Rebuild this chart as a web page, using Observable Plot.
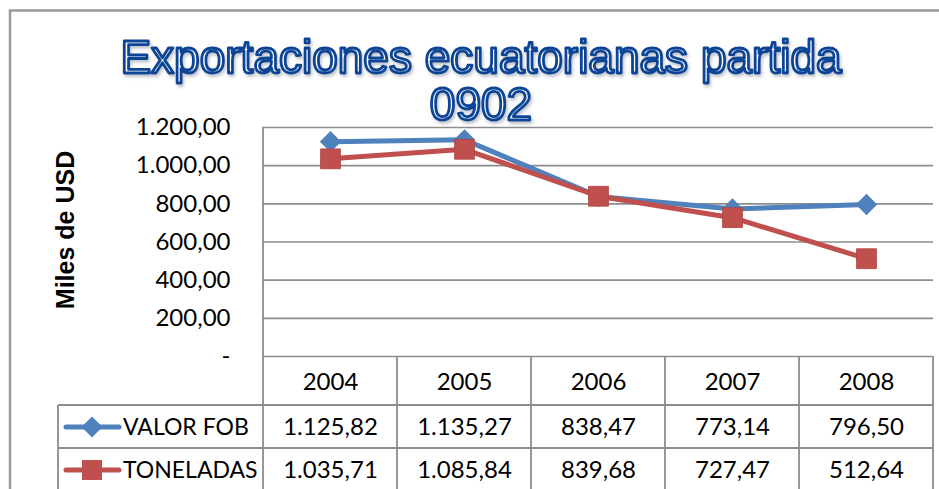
<!DOCTYPE html>
<html>
<head>
<meta charset="utf-8">
<script src="https://cdn.jsdelivr.net/npm/d3@7"></script>
<script src="https://cdn.jsdelivr.net/npm/@observablehq/plot@0.6"></script>
<style>
  html, body { margin: 0; padding: 0; background: #fff; }
  #chart { width: 939px; height: 489px; overflow: hidden; }
</style>
</head>
<body>
<div id="chart"></div>
<script>
const years = ["2004", "2005", "2006", "2007", "2008"];
const valorFob = [1125.82, 1135.27, 838.47, 773.14, 796.50];
const toneladas = [1035.71, 1085.84, 839.68, 727.47, 512.64];
const seriesNames = ["VALOR FOB", "TONELADAS"];
const seriesColors = ["#4F81BD", "#C0504D"];
const yTicks = [0, 200, 400, 600, 800, 1000, 1200];
const titleLines = ["Exportaciones ecuatorianas partida", "0902"];
const yLabel = "Miles de USD";

const locale = d3.formatLocale({decimal: ",", thousands: ".", grouping: [3], currency: ["", ""]});
const fmt = locale.format(",.2f");
const tickFmt = d => d === 0 ? "-" : fmt(d);

const rows = years.map((y, i) => ({year: y, fob: valorFob[i], ton: toneladas[i]}));
const FONT = "Lato, 'Open Sans', sans-serif";
const W = 939, H = 489;
const mL = 262, mR = 6, mT = 127, mB = 133;

const plot = Plot.plot({
  width: W, height: H,
  marginLeft: mL, marginRight: mR, marginTop: mT, marginBottom: mB,
  style: {fontFamily: FONT, background: "white", overflow: "visible"},
  x: {type: "point", domain: years, padding: 0.5, axis: null},
  y: {domain: [0, 1200], axis: null},
  marks: [
    Plot.ruleY(yTicks, {stroke: "#8c8c8c", strokeWidth: 1.6}),
    Plot.text(yTicks, {y: d => d, text: tickFmt, frameAnchor: "left", dx: -32, textAnchor: "end", fontSize: 24, fill: "#000"}),
    Plot.line(rows, {x: "year", y: "fob", stroke: seriesColors[0], strokeWidth: 5}),
    Plot.dot(rows, {x: "year", y: "fob", symbol: "diamond2", r: 9.6, fill: seriesColors[0], stroke: "none"}),
    Plot.line(rows, {x: "year", y: "ton", stroke: seriesColors[1], strokeWidth: 5}),
    Plot.dot(rows, {x: "year", y: "ton", symbol: "square", r: 11.2, fill: seriesColors[1], stroke: "#b0403d", strokeWidth: 0.8}),
    // data table texts
    Plot.text(rows, {x: "year", y: () => 0, text: "year", dy: 26, fontSize: 24, fill: "#000"}),
    Plot.text(rows, {x: "year", y: () => 0, text: d => fmt(d.fob), dy: 71, fontSize: 24, fill: "#000"}),
    Plot.text(rows, {x: "year", y: () => 0, text: d => fmt(d.ton), dy: 114, fontSize: 24, fill: "#000"})
  ]
});

document.getElementById("chart").appendChild(plot);

const svg = d3.select(plot);
const xs = plot.scale("x");
const ys = plot.scale("y");
const centers = years.map(y => xs.apply(y));
const step = centers[1] - centers[0];
const bounds = [centers[0] - step / 2, ...centers.map(c => c + step / 2)];
const y0 = ys.apply(0);
const yTop = ys.apply(1200);
const rowTops = [y0, y0 + 49, y0 + 92];
const legendLeft = 58;
const grid = "#8c8c8c";

// drop shadow filter for title
const defs = svg.append("defs");
const f = defs.append("filter").attr("id", "tshadow").attr("x", "-5%").attr("y", "-20%").attr("width", "110%").attr("height", "150%");
f.append("feDropShadow").attr("dx", 1.5).attr("dy", 2.5).attr("stdDeviation", 1.5).attr("flood-color", "#7f8a99").attr("flood-opacity", 0.5);

// outer chart border
const deco = svg.append("g");
deco.append("path").attr("d", `M10,${H + 5} V10.5 H${W + 5}`).attr("fill", "none").attr("stroke", "#9a9a9a").attr("stroke-width", 2.5);

// table grid
const tg = svg.append("g").attr("stroke", grid).attr("stroke-width", 1.8).attr("fill", "none");
tg.append("line").attr("x1", bounds[0]).attr("x2", bounds[0]).attr("y1", yTop).attr("y2", H);
bounds.slice(1).forEach(b => tg.append("line").attr("x1", b).attr("x2", b).attr("y1", y0).attr("y2", H));
tg.append("line").attr("x1", legendLeft).attr("x2", legendLeft).attr("y1", rowTops[1]).attr("y2", H);
[rowTops[1], rowTops[2]].forEach(t => tg.append("line").attr("x1", legendLeft).attr("x2", bounds[5]).attr("y1", t).attr("y2", t));

// legend keys in table
const keyY = [rowTops[1] + 22, rowTops[2] + 22];
const sym = [d3.symbol(d3.symbolDiamond2, 282), d3.symbol(d3.symbolSquare, 400)];
seriesNames.forEach((name, i) => {
  const g = svg.append("g");
  g.append("line").attr("x1", 66).attr("x2", 119).attr("y1", keyY[i]).attr("y2", keyY[i])
    .attr("stroke", seriesColors[i]).attr("stroke-width", 5).attr("stroke-linecap", "round");
  g.append("path").attr("d", sym[i]()).attr("transform", `translate(92,${keyY[i]})`).attr("fill", seriesColors[i]);
  g.append("text").attr("x", 123).attr("y", keyY[i]).attr("dy", "0.35em").attr("text-anchor", "start")
    .attr("font-family", FONT).attr("font-size", 23).attr("fill", "#000").text(name);
});

// y axis title
svg.append("text").attr("transform", `translate(74,230) rotate(-90)`).attr("text-anchor", "middle")
  .attr("font-family", "'Liberation Sans', Arial, sans-serif").attr("font-weight", "bold").attr("font-size", 25)
  .attr("fill", "#000").text(yLabel);

// chart title
const tt = svg.append("g").attr("font-family", "'Liberation Sans', Arial, sans-serif").attr("font-size", 46)
  .attr("text-anchor", "middle").attr("filter", "url(#tshadow)");
[73, 120].forEach((by, i) => {
  tt.append("text").attr("x", 481).attr("y", by).attr("fill", "#ffffff").attr("stroke", "#0c4596")
    .attr("stroke-width", 2.8).attr("stroke-linejoin", "round").text(titleLines[i]);
});
</script>
</body>
</html>
